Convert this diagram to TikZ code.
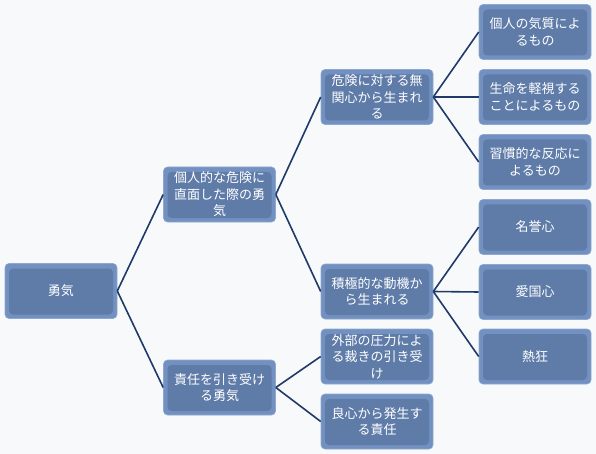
\documentclass[tikz,border=0pt]{standalone}
\usepackage{fontspec}
\usepackage{xcolor}
\usepackage{tikz}
\newfontfamily\jpfont{Noto Sans CJK JP}
\definecolor{boxouter}{HTML}{7290C0}
\definecolor{boxinner}{HTML}{5F7CA9}
\definecolor{boxedge}{HTML}{8FA8D0}
\definecolor{linkblue}{HTML}{1F3A68}
\definecolor{bgpaper}{HTML}{F8F9FB}

\begin{document}
\begin{tikzpicture}[x=1pt, y=-1pt,
    box/.style={rounded corners=4pt, fill=boxouter, draw=boxedge, line width=0.6pt,
        minimum width=112pt, minimum height=55pt, inner sep=0pt,
        text width=104pt, align=center, text=white,
        font=\jpfont\fontsize{13}{16.5}\selectfont,
        path picture={\fill[boxinner]
            ([shift={(4pt,4pt)}]path picture bounding box.south west) rectangle
            ([shift={(-4pt,-5pt)}]path picture bounding box.north east);}},
    link/.style={linkblue, line width=1.6pt}]
    \fill[bgpaper] (0,0) rectangle (596,454);
    \useasboundingbox (0,0) rectangle (596,454);

    % root and first level
    \node[box] (courage) at (61,291) {勇気};
    \node[box] (danger) at (219.5,194.5) {個人的な危険に\\直面した際の勇\\気};
    \node[box] (duty) at (219.5,387.5) {責任を引き受け\\る勇気};

    % second level
    \node[box] (indiff) at (377,97) {危険に対する無\\関心から生まれ\\る};
    \node[box] (motive) at (377,291.5) {積極的な動機か\\ら生まれる};
    \node[box] (press) at (377,356.5) {外部の圧力によ\\る裁きの引き受\\け};
    \node[box] (consc) at (377,421.5) {良心から発生す\\る責任};

    % third level
    \node[box] (temper) at (535,32) {個人の気質によ\\るもの};
    \node[box] (life) at (535,97) {生命を軽視する\\ことによるもの};
    \node[box] (habit) at (535,162) {習慣的な反応に\\よるもの};
    \node[box] (honor) at (535,227) {名誉心};
    \node[box] (patriot) at (535,292) {愛国心};
    \node[box] (zeal) at (535,356.5) {熱狂};

    % connectors
    \draw[link] (courage.east) -- (danger.west);
    \draw[link] (courage.east) -- (duty.west);
    \draw[link] (danger.east) -- (indiff.west);
    \draw[link] (danger.east) -- (motive.west);
    \draw[link] (duty.east) -- (press.west);
    \draw[link] (duty.east) -- (consc.west);
    \draw[link] (indiff.east) -- (temper.west);
    \draw[link] (indiff.east) -- (life.west);
    \draw[link] (indiff.east) -- (habit.west);
    \draw[link] (motive.east) -- (honor.west);
    \draw[link] (motive.east) -- (patriot.west);
    \draw[link] (motive.east) -- (zeal.west);
\end{tikzpicture}
\end{document}
